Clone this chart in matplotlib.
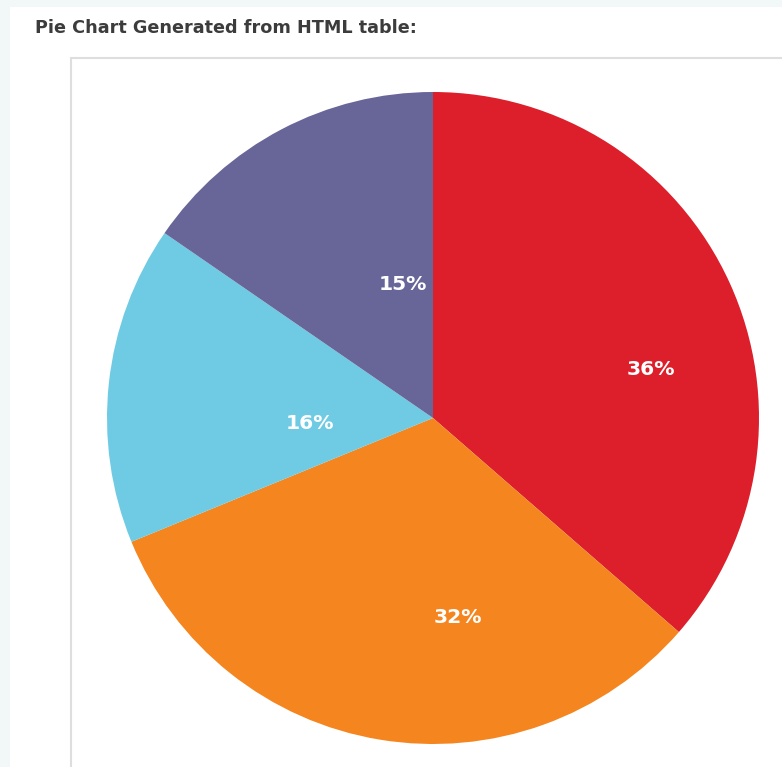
import matplotlib
matplotlib.use('Agg')
import matplotlib.pyplot as plt
from matplotlib.patches import Rectangle

plt.rcParams['font.family'] = ['DejaVu Sans']

# data (slice sizes in percent, clockwise from 12 o'clock)
values = [36.4, 32.4, 15.8, 15.4]
colors = ['#dc1f2b', '#f5851f', '#6fcbe3', '#686598']
title = 'Pie Chart Generated from HTML table:'

# where each percent label sits inside the pie (radius = 1)
label_xy = [(0.669, 0.150), (0.077, -0.613), (-0.377, -0.018), (-0.092, 0.411)]

W, H = 782, 767
fig = plt.figure(figsize=(W / 100, H / 100), dpi=100)
fig.patch.set_facecolor('#f2f8f8')

# white page area and the light grey chart frame
fig.add_artist(Rectangle((10 / W, 0), 1, 1 - 7 / H, transform=fig.transFigure,
                         facecolor='white', edgecolor='none', zorder=0))
fig.add_artist(Rectangle((70.5 / W, -0.01), 1, 1 - 57.5 / H + 0.01, transform=fig.transFigure,
                         facecolor='none', edgecolor='#dedede', lw=1.5, zorder=1))

fig.text(35 / W, 1 - 28 / H, title, fontsize=12.7, fontweight='bold',
         color='#3c3c3c', va='center', ha='left')

cx, cy, r = 433, 418, 326
ax = fig.add_axes([(cx - r) / W, (H - cy - r) / H, 2 * r / W, 2 * r / H])
wedges, texts, autotexts = ax.pie(values, colors=colors, startangle=90, counterclock=False,
                                  autopct=lambda p: '%d%%' % round(p),
                                  wedgeprops=dict(linewidth=0, antialiased=True),
                                  textprops=dict(color='white', fontsize=14.6, fontweight='bold'))
for t, xy in zip(autotexts, label_xy):
    t.set_position(xy)
    t.set_ha('center')
    t.set_va('center')
ax.set_xlim(-1, 1)
ax.set_ylim(-1, 1)
ax.set_aspect('auto')
ax.axis('off')

fig.savefig('out.png', dpi=100, facecolor=fig.get_facecolor())
